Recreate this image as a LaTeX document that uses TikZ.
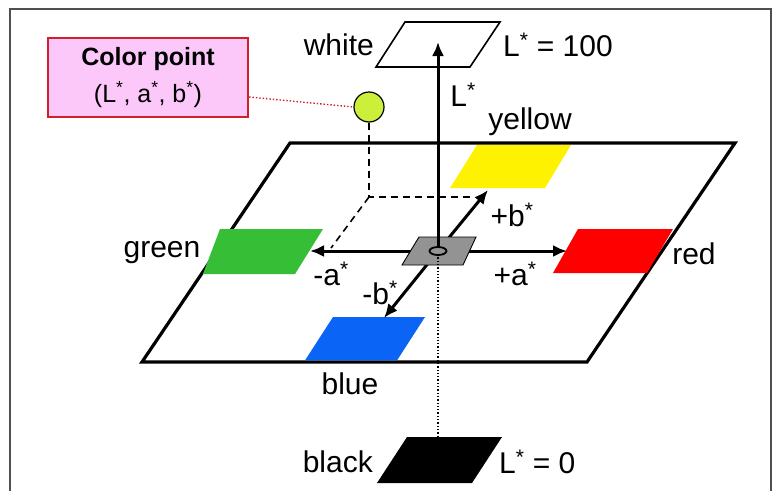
\documentclass[tikz,border=0pt]{standalone}
\usepackage{fontspec}
\setmainfont{Liberation Sans}
\usetikzlibrary{arrows.meta}
\definecolor{boxpink}{HTML}{FCC8FA}
\definecolor{boxred}{HTML}{D0202C}
\definecolor{ptgreen}{HTML}{CCF03A}
\definecolor{grnpatch}{HTML}{36BE36}
\definecolor{bluepatch}{HTML}{0A64F5}
\definecolor{framegray}{HTML}{505050}
\tikzset{
  lbl/.style={font=\fontsize{30}{34}\selectfont, inner sep=0pt},
  axis/.style={line width=3pt, -{Latex[length=14pt,width=12pt]}},
  plane/.style={line width=3.2pt, line join=miter},
  thinpara/.style={line width=1.6pt, line join=miter},
  guide/.style={line width=1.6pt, dash pattern=on 7pt off 5pt},
}
\newcommand{\st}{\textsuperscript{*}}
\begin{document}
\begin{tikzpicture}[x=1pt,y=-1pt]
\useasboundingbox (0,0) rectangle (776,490);
\fill[white] (0,0) rectangle (776,490);
% frame
\draw[framegray, line width=1.6pt] (10,493) -- (10,9) -- (771,9) -- (771,493);

% main plane
\draw[plane] (290,143) -- (735,143) -- (587,362) -- (142,362) -- cycle;

% patches
\fill[yellow] (477,145) -- (571,145) -- (545,188) -- (450,188) -- cycle;
\fill[red] (578,229) -- (673,229) -- (647,273) -- (553,273) -- cycle;
\fill[grnpatch] (220,229) -- (323,229) -- (295,274) -- (203,274) -- cycle;
\fill[bluepatch] (333,317) -- (425,317) -- (397,360.4) -- (305,360.4) -- cycle;

% coordinates
\coordinate (O) at (438,251);
\coordinate (Ltop) at (438,42);
\coordinate (Ebot) at (438,254);
\coordinate (Etop) at (438,247);
\coordinate (amin) at (310,251);
\coordinate (aplus) at (567,251);
\coordinate (bplus) at (488,190);
\coordinate (bmin) at (384,318);
\coordinate (Bk) at (438,436);
\coordinate (Pbase) at (369,197);
\coordinate (Pright) at (474,197);
\coordinate (Pleft) at (331,248);

% color point guides
\node[circle, draw=black, line width=1.2pt, fill=ptgreen, minimum size=30pt, inner sep=0pt] (cp) at (369,107) {};
\draw[guide] (cp.south) -- (Pbase) -- (Pright);
\draw[guide] (Pbase) -- (Pleft);

% a and b axes
\draw[axis] (O) -- (amin);
\draw[axis] (O) -- (aplus);
\draw[axis] (O) -- (bplus);
\draw[axis] (O) -- (bmin);

% gray centre patch
\fill[gray!85] (419,237) -- (476,237) -- (463,265) -- (402,265) -- cycle;
\draw[line width=0.9pt] (419,237) -- (476,237) -- (463,265) -- (402,265) -- cycle;
\draw[line width=1.8pt] (O) ellipse (8.5pt and 4pt);

% L axis
\draw[axis] (Etop) -- (Ltop);
\draw[line width=1.3pt, dotted] (Ebot) -- (Bk);

% white and black planes
\draw[thinpara, fill=white] (405,22) -- (500,22) -- (470,67) -- (376,67) -- cycle;
\draw[axis] (438,67) -- (Ltop);
\fill[black] (407,437) -- (502,437) -- (472,483) -- (377,483) -- cycle;

% callout
\node[draw=boxred, line width=2.2pt, fill=boxpink, minimum width=200pt, minimum height=79pt, inner sep=0pt, align=center, font=\fontsize{25}{37}\selectfont] (cbox) at (148,77.5) {\textbf{Color point}\\(L\st, a\st, b\st)};
\draw[boxred, line width=1.4pt, dotted] (cbox.east |- 0,97) -- (cp.west);

% labels
\node[lbl, anchor=east] (twhite) at (374,45) {white};
\node[lbl, anchor=west] (tL100) at (503,45) {L\st\ = 100};
\node[lbl] (tL) at (463,95) {L\st};
\node[lbl] (tyellow) at (530,122) {yellow};
\node[lbl] (tbp) at (512,215) {+b\st};
\node[lbl] (tgreen) at (162,253) {green};
\node[lbl] (tred) at (694,254) {red};
\node[lbl] (tam) at (331,274) {-a\st};
\node[lbl] (tap) at (515,274) {+a\st};
\node[lbl] (tbm) at (380,293) {-b\st};
\node[lbl] (tblue) at (350,384) {blue};
\node[lbl, anchor=east] (tblack) at (373,462) {black};
\node[lbl, anchor=west] (tL0) at (499,462) {L\st\ = 0};
\end{tikzpicture}
\end{document}
